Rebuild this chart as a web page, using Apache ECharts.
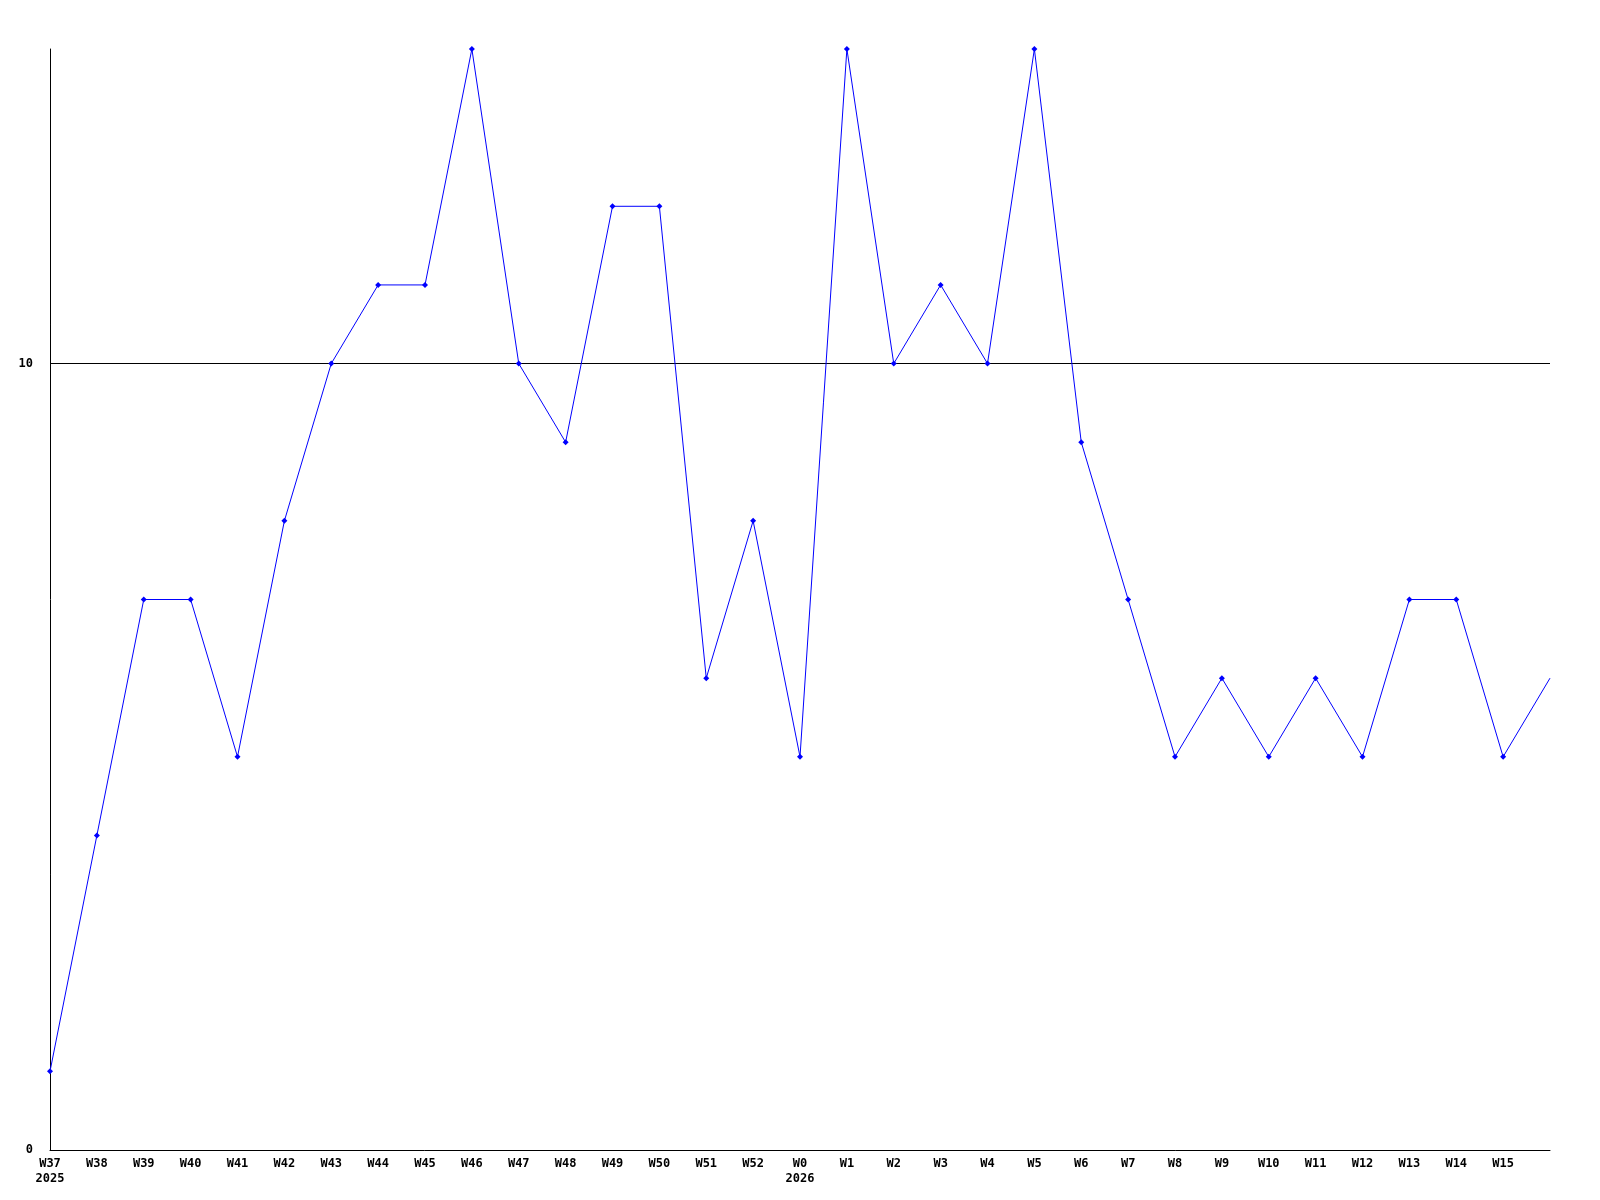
<!DOCTYPE html>
<html><head><meta charset="utf-8">
<script src="https://cdn.jsdelivr.net/npm/echarts@6/dist/echarts.min.js"></script>
<style>html,body{margin:0;padding:0;background:#fff}#c{width:1600px;height:1200px}</style>
</head><body><div id="c"></div>
<script>
const weeks = ['W37','W38','W39','W40','W41','W42','W43','W44','W45','W46','W47','W48','W49','W50','W51','W52','W0','W1','W2','W3','W4','W5','W6','W7','W8','W9','W10','W11','W12','W13','W14','W15',''];
const years = {'W37':'2025','W0':'2026'};
const values = [1,4,7,7,5,8,10,11,11,14,10,9,12,12,6,8,5,14,10,11,10,14,9,7,5,6,5,6,5,7,7,5,6];
const yTickLabels = {0:'0',10:'10'};

const chart = echarts.init(document.getElementById('c'));
const font = {fontFamily:'DejaVu Sans Mono', fontWeight:'bold', fontSize:12, color:'#000'};
chart.setOption({
  animation:false,
  backgroundColor:'#fff',
  grid:{left:50,right:50,top:49,bottom:50,containLabel:false},
  xAxis:{
    type:'category', data:weeks, boundaryGap:false,
    axisLine:{lineStyle:{color:'#000',width:1}},
    axisTick:{show:false},
    axisLabel:Object.assign({}, font, {interval:0, margin:6, lineHeight:15, align:'center',
      formatter:(v)=> years[v] ? v+'\n'+years[v] : v})
  },
  yAxis:{
    type:'value', min:0, max:14, interval:10,
    axisLine:{show:true,lineStyle:{color:'#000',width:1}},
    axisTick:{show:false},
    axisLabel:Object.assign({}, font, {margin:17, formatter:(v)=> yTickLabels[v] !== undefined ? yTickLabels[v] : ''}),
    splitLine:{show:true,lineStyle:{color:['rgba(0,0,0,0)','#000','rgba(0,0,0,0)'],width:1}}
  },
  series:[{
    type:'line',
    data: values.map((v,i)=> i===values.length-1 ? {value:v, symbol:'none'} : v),
    lineStyle:{color:'#0000ff',width:1},
    itemStyle:{color:'#0000ff'},
    symbol:'diamond', symbolSize:6, showAllSymbol:true
  }]
});
</script></body></html>
